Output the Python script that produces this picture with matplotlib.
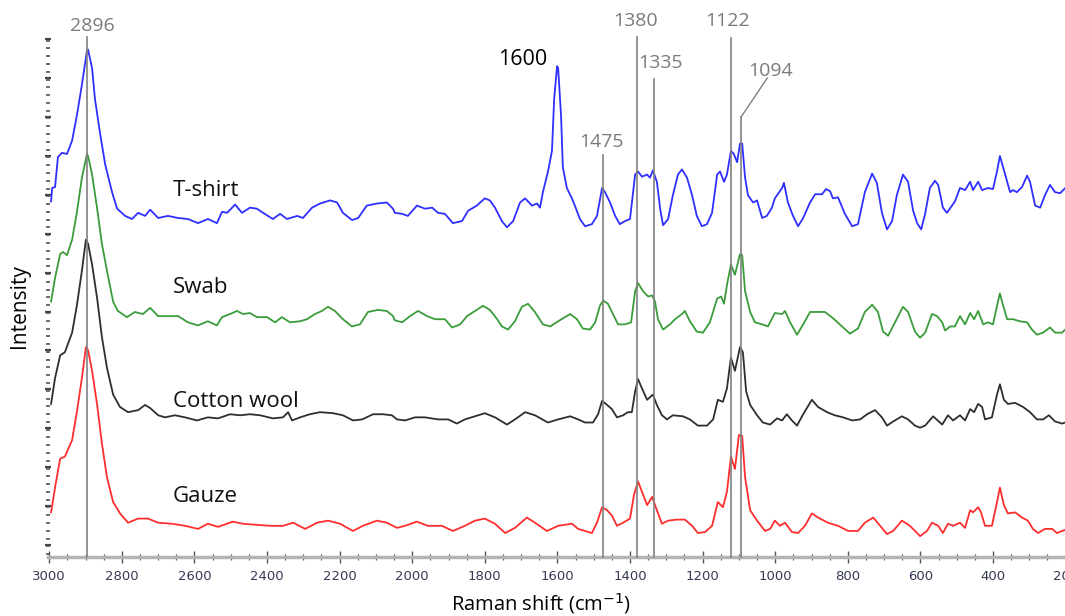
import matplotlib
matplotlib.use("Agg")
import matplotlib.pyplot as plt
from matplotlib.ticker import MultipleLocator, FixedLocator
import numpy as np

# ---------------- data (stacked intensities, a.u.) ----------------
tshirt_wn = [2995, 2992, 2984, 2976, 2965, 2951, 2937, 2924, 2910, 2896, 2893, 2882, 2874, 2860, 2846, 2827,
             2813, 2791, 2772, 2755, 2736, 2722, 2700, 2673, 2645, 2618, 2590, 2563, 2538, 2524, 2510, 2488,
             2469, 2447, 2428, 2411, 2384, 2364, 2345, 2317, 2301, 2276, 2254, 2226, 2207, 2191, 2166, 2149,
             2125, 2097, 2070, 2053, 2048, 2028, 2012, 1987, 1965, 1945, 1929, 1910, 1888, 1863, 1846, 1822,
             1800, 1786, 1772, 1753, 1739, 1722, 1703, 1689, 1670, 1656, 1648, 1640, 1626, 1615, 1609, 1601,
             1598, 1590, 1585, 1574, 1560, 1552, 1538, 1524, 1505, 1491, 1477, 1469, 1455, 1441, 1428, 1414,
             1400, 1386, 1378, 1367, 1353, 1345, 1337, 1326, 1317, 1309, 1295, 1282, 1268, 1257, 1243, 1229,
             1216, 1202, 1188, 1174, 1160, 1152, 1141, 1133, 1122, 1114, 1105, 1097, 1091, 1083, 1075, 1061,
             1050, 1036, 1023, 1009, 1001, 981, 976, 965, 951, 937, 923, 904, 890, 871, 860, 849, 841, 827,
             808, 788, 772, 753, 733, 720, 706, 692, 678, 665, 648, 634, 620, 609, 598, 587, 574, 560, 551,
             538, 527, 513, 505, 491, 477, 463, 455, 441, 430, 414, 400, 389, 381, 372, 361, 353, 345, 334,
             320, 306, 298, 284, 270, 257, 243, 229, 215, 201]
tshirt_int = [349, 362, 363, 392, 396, 395, 408, 432, 462, 495, 496, 478, 448, 415, 385, 358,
              342, 335, 332, 338, 335, 341, 333, 335, 333, 332, 328, 332, 328, 339, 338, 346,
              338, 343, 342, 338, 332, 337, 332, 335, 333, 343, 347, 350, 348, 338, 331, 333,
              345, 347, 348, 342, 338, 337, 335, 345, 342, 343, 338, 337, 328, 330, 340, 345,
              352, 350, 343, 330, 324, 330, 348, 352, 345, 347, 343, 358, 378, 398, 448, 480,
              478, 432, 382, 362, 352, 345, 332, 325, 327, 335, 362, 358, 348, 335, 327, 330,
              332, 375, 378, 373, 375, 372, 379, 368, 342, 326, 332, 355, 375, 380, 372, 355,
              335, 325, 327, 338, 375, 378, 368, 375, 398, 395, 387, 405, 405, 372, 355, 348,
              350, 333, 335, 343, 352, 362, 367, 348, 335, 325, 333, 348, 356, 356, 361, 359, 352, 353,
              337, 325, 327, 358, 376, 367, 338, 322, 330, 355, 375, 368, 340, 328, 322, 337, 362, 369, 365,
              343, 338, 345, 349, 362, 360, 368, 360, 368, 360, 362, 361, 378, 393, 382, 368, 358, 360, 358,
              363, 374, 368, 345, 343, 355, 365, 358, 357, 362]

swab_wn = [2995, 2984, 2970, 2962, 2951, 2937, 2924, 2910, 2896, 2893, 2882, 2868, 2855, 2841, 2824, 2811,
           2786, 2764, 2742, 2722, 2700, 2673, 2645, 2618, 2590, 2563, 2538, 2524, 2502, 2483, 2466, 2447,
           2428, 2400, 2378, 2359, 2337, 2309, 2290, 2268, 2249, 2232, 2213, 2191, 2166, 2144, 2122, 2094,
           2070, 2053, 2048, 2028, 2006, 1984, 1959, 1937, 1910, 1890, 1868, 1849, 1827, 1805, 1786, 1766,
           1753, 1736, 1717, 1698, 1681, 1662, 1640, 1620, 1598, 1574, 1565, 1546, 1530, 1510, 1496, 1483,
           1474, 1461, 1447, 1433, 1414, 1397, 1386, 1378, 1364, 1350, 1339, 1331, 1323, 1309, 1290, 1276,
           1257, 1249, 1235, 1216, 1199, 1180, 1160, 1149, 1141, 1133, 1122, 1111, 1097, 1091, 1083, 1069,
           1056, 1036, 1020, 1001, 981, 973, 959, 940, 923, 904, 885, 863, 841, 816, 794, 772, 753, 733,
           717, 703, 689, 670, 648, 634, 615, 601, 587, 568, 554, 540, 532, 518, 505, 491, 477, 463, 452,
           441, 427, 414, 400, 389, 381, 372, 361, 345, 326, 306, 293, 279, 262, 243, 229, 210, 201]
swab_int = [252, 275, 298, 300, 297, 312, 338, 372, 395, 393, 375, 342, 308, 282, 252, 243,
            237, 242, 240, 246, 238, 238, 238, 232, 229, 233, 229, 237, 240, 243, 240, 241,
            237, 237, 232, 237, 232, 233, 235, 240, 243, 247, 243, 235, 228, 230, 242, 244,
            243, 238, 234, 232, 238, 243, 238, 235, 235, 227, 230, 238, 243, 248, 244, 235,
            228, 225, 233, 247, 250, 242, 230, 228, 233, 238, 240, 235, 226, 225, 232, 248,
            253, 250, 240, 230, 230, 232, 262, 270, 262, 257, 258, 252, 235, 225, 230, 235,
            240, 243, 233, 223, 222, 232, 255, 257, 250, 268, 288, 278, 298, 297, 262, 242,
            232, 230, 228, 241, 240, 243, 232, 220, 230, 242, 242, 242, 236, 228, 221, 226, 242, 249,
            242, 223, 219, 232, 247, 242, 223, 217, 222, 240, 238, 232, 224, 228, 228, 238, 230, 241, 235,
            243, 230, 232, 230, 248, 260, 248, 235, 235, 233, 232, 225, 220, 222, 227, 222, 222, 225]

cotton_wn = [2995, 2984, 2970, 2957, 2937, 2924, 2910, 2899, 2893, 2882, 2868, 2855, 2841, 2824, 2805, 2783,
             2755, 2736, 2722, 2700, 2681, 2654, 2626, 2593, 2563, 2535, 2502, 2474, 2447, 2419, 2384, 2356,
             2342, 2331, 2309, 2282, 2254, 2218, 2191, 2163, 2138, 2108, 2081, 2056, 2042, 2020, 1992, 1965,
             1929, 1901, 1877, 1855, 1827, 1800, 1772, 1739, 1717, 1689, 1662, 1626, 1598, 1565, 1543, 1524,
             1502, 1488, 1477, 1463, 1450, 1436, 1419, 1406, 1395, 1386, 1378, 1367, 1353, 1337, 1326, 1312,
             1298, 1282, 1254, 1235, 1213, 1188, 1171, 1158, 1144, 1133, 1122, 1111, 1097, 1089, 1080, 1069,
             1050, 1034, 1014, 995, 981, 968, 954, 940, 923, 899, 882, 857, 836, 813, 788, 766, 747, 725,
             706, 692, 675, 651, 634, 615, 601, 587, 565, 540, 524, 510, 491, 477, 463, 452, 441, 430, 422,
             403, 389, 381, 370, 359, 339, 317, 298, 279, 262, 246, 229, 210, 201]
cotton_int = [153, 178, 200, 203, 222, 248, 282, 312, 308, 288, 255, 218, 188, 162, 150, 145,
              147, 152, 149, 142, 140, 142, 140, 137, 140, 139, 143, 142, 143, 142, 139, 140,
              145, 137, 140, 143, 145, 144, 142, 137, 138, 143, 143, 142, 138, 137, 140, 140,
              138, 138, 134, 138, 141, 144, 140, 133, 138, 145, 142, 135, 138, 141, 138, 135,
              135, 143, 156, 152, 148, 140, 142, 145, 145, 165, 177, 168, 157, 162, 152, 142,
              138, 142, 141, 138, 132, 132, 138, 157, 155, 168, 198, 185, 208, 203, 165, 152,
              142, 135, 133, 139, 137, 143, 137, 132, 143, 157, 150, 145, 142, 140, 137, 138, 143, 147,
              140, 132, 136, 141, 138, 132, 130, 132, 141, 133, 142, 137, 142, 137, 148, 145, 153, 150, 138,
              140, 162, 172, 157, 153, 154, 150, 145, 138, 138, 142, 136, 134, 135]

gauze_wn = [2995, 2984, 2970, 2957, 2937, 2924, 2910, 2899, 2893, 2882, 2868, 2855, 2841, 2824, 2805, 2783,
            2755, 2728, 2700, 2662, 2626, 2590, 2563, 2535, 2494, 2466, 2428, 2392, 2356, 2328, 2295, 2262,
            2232, 2199, 2163, 2136, 2097, 2070, 2042, 2020, 1987, 1957, 1918, 1888, 1855, 1827, 1800, 1772,
            1744, 1717, 1684, 1662, 1629, 1598, 1560, 1543, 1524, 1505, 1491, 1477, 1463, 1450, 1436, 1419,
            1400, 1389, 1378, 1367, 1353, 1339, 1328, 1312, 1295, 1271, 1249, 1229, 1213, 1193, 1174, 1158,
            1144, 1133, 1122, 1111, 1100, 1091, 1083, 1069, 1050, 1028, 1014, 1001, 987, 973, 954, 937, 918,
            899, 882, 855, 827, 799, 772, 753, 730, 711, 692, 675, 651, 629, 609, 601, 582, 568, 551, 538,
            524, 510, 491, 477, 463, 455, 441, 433, 422, 403, 389, 381, 370, 359, 339, 320, 304, 290, 276,
            257, 237, 224, 210, 201]
gauze_int = [48, 72, 100, 102, 118, 145, 178, 208, 205, 185, 152, 115, 82, 58, 47, 38,
             42, 42, 38, 37, 35, 32, 37, 34, 39, 37, 36, 35, 35, 38, 32, 38,
             40, 37, 30, 35, 40, 38, 33, 35, 39, 35, 35, 30, 35, 40, 42, 37,
             28, 33, 43, 38, 30, 35, 37, 32, 30, 28, 38, 53, 50, 45, 35, 38,
             42, 65, 78, 68, 55, 63, 52, 37, 40, 41, 41, 35, 28, 29, 35, 58,
             53, 68, 102, 90, 123, 122, 82, 50, 40, 30, 32, 40, 35, 38, 29, 28, 35,
             47, 43, 38, 35, 30, 30, 38, 43, 35, 27, 30, 40, 35, 28, 25, 30, 38, 35, 28,
             37, 35, 38, 33, 50, 48, 53, 48, 35, 35, 58, 72, 55, 47, 48, 43, 40, 32, 28,
             32, 32, 28, 30, 31]

sample_names = ["T-shirt", "Swab", "Cotton wool", "Gauze"]
sample_colors = ["#2f2fff", "#3a9c3a", "#2e2e2e", "#ff2e2e"]
sample_label_y = [360, 266, 155, 63]

peak_labels = ["2896", "1475", "1380", "1335", "1122", "1094"]
peak_positions = [2896, 1475, 1380, 1335, 1122, 1094]
x_ticks = [3000, 2800, 2600, 2400, 2200, 2000, 1800, 1600, 1400, 1200, 1000, 800, 600, 400, 200]

# ---------------- figure ----------------
fig = plt.figure(figsize=(10.65, 6.16), dpi=100)
ax = fig.add_axes([47.5 / 1065, 59 / 616, (1066 - 47.5) / 1065, 520 / 616])

series = [(tshirt_wn, tshirt_int), (swab_wn, swab_int), (cotton_wn, cotton_int), (gauze_wn, gauze_int)]
for (wn, it), c in zip(series, sample_colors):
    ax.plot(wn, it, color=c, lw=1.3, solid_joinstyle="round")

ax.set_xlim(3004.8, 198.9)
ax.set_ylim(4.8, 508.2)

for name, yy in zip(sample_names, sample_label_y):
    ax.text(2660, yy, name, fontsize=16, family="Open Sans", color="#111111", va="center", ha="left")

trans = ax.get_xaxis_transform()
grey = "#808080"
label_grey = "#7a7a7a"
fs_peak = 14
# vertical marker lines
line_tops = {2896: 1.0, 1475: 0.773, 1380: 1.0, 1335: 0.919, 1122: 0.998, 1094: 0.846}
for p in peak_positions:
    ax.plot([p, p], [0, line_tops[p]], transform=trans, color=grey, lw=1.2, clip_on=False, zorder=5)
ax.plot([1094, 1022], [0.846, 0.921], transform=trans, color=grey, lw=1.0, clip_on=False, zorder=5)

label_pos = {"2896": (2882, 1.021), "1475": (1480, 0.798), "1380": (1384, 1.031),
             "1335": (1315, 0.95), "1122": (1130, 1.031), "1094": (1012, 0.935)}
for lab in peak_labels:
    x, y = label_pos[lab]
    ax.text(x, y, lab, transform=trans, ha="center", va="center", fontsize=fs_peak,
            family="Open Sans", color=label_grey, clip_on=False)
ax.text(1695, 0.956, "1600", transform=trans, ha="center", va="center", fontsize=15.5,
        family="Open Sans", color="black")

# axes styling
for s in ["top", "right"]:
    ax.spines[s].set_visible(False)
ax.spines["left"].set_visible(False)
ax.spines["bottom"].set_color("#b4b4b4")
ax.spines["bottom"].set_linewidth(2.5)

ax.xaxis.set_major_locator(FixedLocator(x_ticks))
ax.xaxis.set_minor_locator(MultipleLocator(50))
ax.tick_params(axis="x", which="major", direction="inout", length=9, width=1.0, color="#555555",
               pad=5, labelsize=9.5, labelcolor="#353b55")
ax.tick_params(axis="x", which="minor", direction="inout", length=4, width=0.9, color="#555555")
for lbl in ax.get_xticklabels():
    lbl.set_family(["Liberation Sans Narrow", "DejaVu Sans"])

ytick_major = list(np.arange(506, 4, -37.66))
ax.yaxis.set_major_locator(FixedLocator(ytick_major))
ax.yaxis.set_minor_locator(MultipleLocator(7.532))
ax.tick_params(axis="y", which="major", direction="inout", length=5, width=1.6, color="#444444",
               labelleft=False)
ax.tick_params(axis="y", which="minor", direction="inout", length=2.5, width=1.2, color="#555555")

ax.set_xlabel("Raman shift (cm$^{-1}$)", fontsize=14.5, family="Open Sans")
ax.xaxis.set_label_coords((541 - 47.5) / 1018.5, (557 - 604) / 520)
ax.xaxis.label.set_verticalalignment("center")
ax.set_ylabel("Intensity", fontsize=15, family="Open Sans")
ax.yaxis.set_label_coords((20 - 47.5) / 1018.5, (557 - 306) / 520)
ax.yaxis.label.set_verticalalignment("center")

fig.savefig("out.png", dpi=100)
